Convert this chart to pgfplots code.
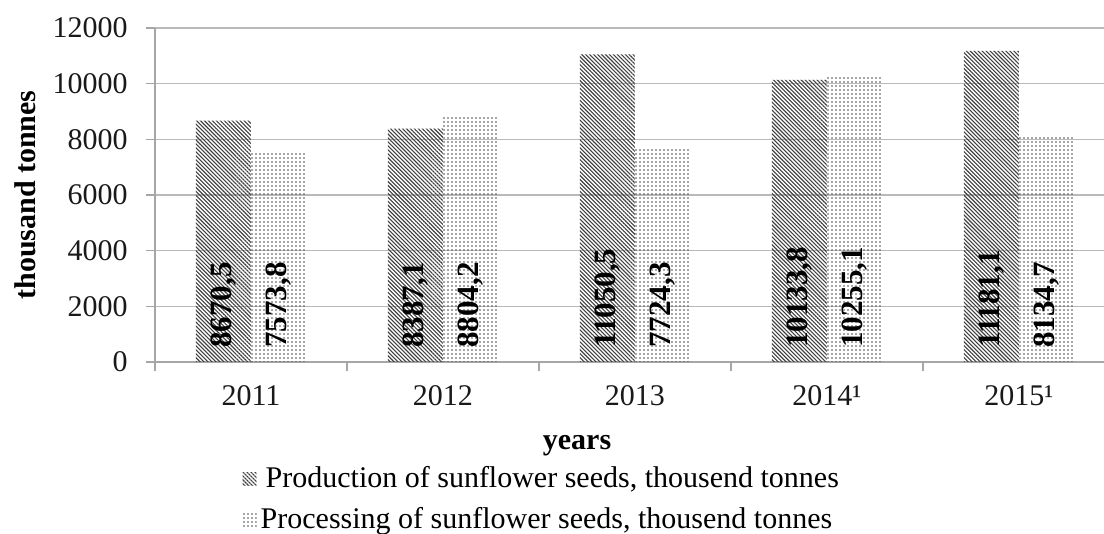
\documentclass[border=0pt]{standalone}
\usepackage{fontspec}
\setmainfont{Liberation Serif}
\usepackage{pgfplots}
\pgfplotsset{compat=1.18}
\usetikzlibrary{patterns.meta}
\begin{document}
\fontsize{15pt}{18pt}\selectfont
\begin{tikzpicture}
\useasboundingbox (-77.5pt,-86pt) rectangle (474.5pt,181pt);
\begin{axis}[
  at={(0pt,0pt)}, anchor=south west,
  scale only axis, width=474.5pt, height=167pt,
  xmin=-0.5, xmax=4.443, ymin=0, ymax=12000,
  ybar=0pt, bar width=27.5pt,
  axis x line*=bottom, axis y line*=left,
  axis line style={gray!70, line width=0.6pt},
  ymajorgrids, major grid style={gray!55, line width=0.6pt},
  ytick={0,2000,...,12000},
  scaled y ticks=false,
  yticklabel style={/pgf/number format/1000 sep={}, xshift=-4pt},
  /pgf/number format/assume math mode=true,
  xtick={0,1,2,3,4},
  xticklabels={2011,2012,2013,2014¹,2015¹},
  xticklabel style={text height=11pt, yshift=-1pt},
  minor xtick={-0.5,0.5,1.5,2.5,3.5},
  tick align=outside,
  major tick length=4.5pt, minor tick length=4.5pt,
  major x tick style={draw=none},
  every tick/.style={gray!70, line width=0.6pt},
  tick label style={text=black!90},
  ylabel={\bfseries thousand tonnes},
  ylabel style={at={(axis description cs:-0.137,0.5)}, anchor=center},
  xlabel={\bfseries years},
  xlabel style={at={(axis description cs:0.4447,0)}, yshift=-42pt, anchor=center},
  visualization depends on={rawy \as \rawy},
  nodes near coords={\pgfmathprintnumber[fixed,fixed zerofill,precision=1,use comma,1000 sep={}]{\pgfplotspointmeta}},
  nodes near coords style={anchor=west, inner sep=0pt, shift={(axis direction cs:0,-\rawy)}, yshift=7pt, rotate=90, font=\fontsize{15.5pt}{18pt}\selectfont\bfseries, text=black},
  legend style={draw=none, fill=none, at={(axis description cs:0.092,-0.30)}, anchor=north west, row sep=3.5pt, inner sep=0pt, cells={anchor=west}, font=\fontsize{15pt}{18pt}\selectfont},
  legend image code/.code={\path[#1,draw=none] (0pt,-3pt) rectangle (7pt,3.5pt);},
]
\addplot[draw=none, pattern={Lines[angle=-45,distance=1.4pt,line width=0.55pt]}, pattern color=black!75]
  coordinates {(0,8670.5) (1,8387.1) (2,11050.5) (3,10133.8) (4,11181.1)};
\addlegendentry{\hspace{2.5pt}Production of sunflower seeds, thousend tonnes}
\addplot[draw=none, pattern={Dots[distance=2pt,radius=0.4pt]}, pattern color=black!70]
  coordinates {(0,7573.8) (1,8804.2) (2,7724.3) (3,10255.1) (4,8134.7)};
\addlegendentry{Processing of sunflower seeds, thousend tonnes}
\end{axis}
\end{tikzpicture}
\end{document}
